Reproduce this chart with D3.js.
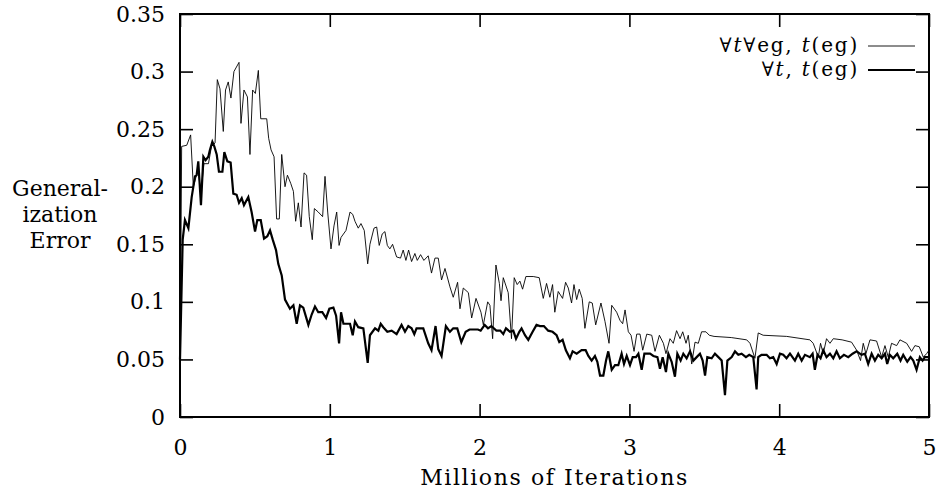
<!DOCTYPE html>
<html>
<head>
<meta charset="utf-8">
<script src="https://cdn.jsdelivr.net/npm/d3@7/dist/d3.min.js"></script>
<style>
  body { margin: 0; background: #fff; }
  svg text { font-family: "DejaVu Serif", serif; fill: #000; }
</style>
</head>
<body>
<div id="chart"></div>
<script>
// x tick values / labels
const xTicks = [0, 1, 2, 3, 4, 5];
const xTickLabels = ["0", "1", "2", "3", "4", "5"];
const yTicks = [0, 0.05, 0.1, 0.15, 0.2, 0.25, 0.3, 0.35];
const yTickLabels = ["0", "0.05", "0.1", "0.15", "0.2", "0.25", "0.3", "0.35"];

// [millions of iterations, generalization error]  -- thin line
const thinSeries = [
  [0,0.03],[0.011,0.235],[0.045,0.236],[0.071,0.245],[0.089,0.200],[0.10,0.205],[0.12,0.215],[0.14,0.195],
  [0.16,0.22],[0.19,0.22],[0.21,0.235],[0.234,0.238],[0.249,0.293],[0.267,0.285],[0.289,0.248],[0.304,0.284],
  [0.322,0.291],[0.340,0.277],[0.360,0.300],[0.394,0.308],[0.407,0.255],[0.427,0.284],[0.450,0.278],[0.467,0.228],
  [0.485,0.284],[0.503,0.281],[0.523,0.301],[0.539,0.259],[0.579,0.259],[0.592,0.242],[0.608,0.232],[0.628,0.226],
  [0.645,0.172],[0.663,0.172],[0.679,0.228],[0.701,0.200],[0.717,0.210],[0.739,0.203],[0.757,0.196],[0.772,0.170],
  [0.790,0.186],[0.808,0.165],[0.828,0.212],[0.845,0.210],[0.863,0.174],[0.883,0.154],[0.897,0.181],[0.923,0.178],
  [0.952,0.174],[0.968,0.209],[0.986,0.178],[1.008,0.146],[1.028,0.166],[1.046,0.178],[1.062,0.149],[1.075,0.156],
  [1.108,0.162],[1.135,0.178],[1.153,0.176],[1.168,0.170],[1.190,0.164],[1.208,0.168],[1.230,0.162],[1.253,0.133],
  [1.268,0.150],[1.295,0.164],[1.313,0.165],[1.330,0.149],[1.350,0.159],[1.368,0.161],[1.384,0.149],[1.401,0.146],
  [1.419,0.150],[1.446,0.139],[1.472,0.138],[1.490,0.145],[1.508,0.136],[1.526,0.145],[1.546,0.135],[1.568,0.142],
  [1.584,0.136],[1.606,0.141],[1.628,0.136],[1.657,0.140],[1.679,0.125],[1.702,0.138],[1.724,0.138],[1.746,0.119],
  [1.769,0.129],[1.802,0.113],[1.824,0.104],[1.853,0.117],[1.869,0.094],[1.891,0.112],[1.925,0.108],[1.947,0.086],
  [1.976,0.103],[2.009,0.091],[2.025,0.080],[2.054,0.100],[2.069,0.097],[2.087,0.068],[2.109,0.132],[2.132,0.116],
  [2.143,0.101],[2.158,0.121],[2.191,0.108],[2.213,0.068],[2.231,0.121],[2.251,0.115],[2.269,0.118],[2.287,0.111],
  [2.309,0.122],[2.358,0.122],[2.398,0.121],[2.425,0.103],[2.447,0.116],[2.469,0.104],[2.487,0.115],[2.502,0.091],
  [2.525,0.109],[2.554,0.103],[2.574,0.117],[2.592,0.112],[2.614,0.099],[2.630,0.115],[2.648,0.102],[2.665,0.111],
  [2.685,0.103],[2.703,0.077],[2.732,0.100],[2.752,0.099],[2.775,0.080],[2.810,0.099],[2.837,0.083],[2.864,0.064],
  [2.882,0.097],[2.915,0.091],[2.937,0.084],[2.955,0.081],[2.971,0.093],[2.993,0.074],[3.011,0.071],[3.031,0.057],
  [3.049,0.072],[3.071,0.072],[3.089,0.058],[3.116,0.072],[3.149,0.071],[3.171,0.057],[3.200,0.071],[3.227,0.064],
  [3.244,0.055],[3.271,0.068],[3.293,0.064],[3.315,0.075],[3.338,0.068],[3.356,0.074],[3.378,0.064],[3.393,0.071],
  [3.416,0.046],[3.438,0.065],[3.460,0.064],[3.482,0.074],[3.511,0.074],[3.533,0.071],[3.565,0.070],[3.680,0.069],
  [3.783,0.067],[3.805,0.064],[3.838,0.051],[3.860,0.073],[3.893,0.071],[4.050,0.070],[4.205,0.067],[4.227,0.064],
  [4.261,0.052],[4.276,0.064],[4.294,0.055],[4.316,0.068],[4.339,0.064],[4.361,0.068],[4.420,0.067],[4.483,0.065],
  [4.517,0.058],[4.543,0.049],[4.561,0.064],[4.579,0.055],[4.606,0.067],[4.650,0.066],[4.684,0.052],[4.706,0.062],
  [4.728,0.052],[4.750,0.064],[4.784,0.062],[4.806,0.067],[4.851,0.064],[4.884,0.057],[4.906,0.062],[4.935,0.061],
  [4.962,0.052],[4.984,0.055],[5.0,0.058]
];

// thick line
const thickSeries = [
  [0,0.05],[0.018,0.154],[0.033,0.171],[0.056,0.164],[0.078,0.191],[0.100,0.209],[0.111,0.210],[0.122,0.222],
  [0.140,0.184],[0.156,0.226],[0.171,0.223],[0.189,0.226],[0.200,0.232],[0.216,0.239],[0.229,0.235],[0.245,0.228],
  [0.260,0.213],[0.283,0.213],[0.296,0.230],[0.316,0.222],[0.338,0.221],[0.356,0.194],[0.378,0.193],[0.394,0.186],
  [0.412,0.190],[0.427,0.184],[0.456,0.191],[0.478,0.178],[0.501,0.161],[0.516,0.171],[0.539,0.171],[0.561,0.155],
  [0.583,0.157],[0.601,0.162],[0.619,0.154],[0.641,0.145],[0.656,0.133],[0.679,0.123],[0.701,0.102],[0.734,0.094],
  [0.757,0.097],[0.779,0.081],[0.801,0.097],[0.823,0.095],[0.857,0.080],[0.879,0.089],[0.901,0.096],[0.923,0.091],
  [0.950,0.091],[0.975,0.086],[0.997,0.094],[1.024,0.095],[1.042,0.088],[1.062,0.064],[1.075,0.091],[1.091,0.081],
  [1.113,0.081],[1.135,0.081],[1.153,0.071],[1.168,0.083],[1.190,0.078],[1.224,0.077],[1.253,0.047],[1.268,0.071],
  [1.302,0.077],[1.324,0.075],[1.340,0.081],[1.357,0.078],[1.384,0.074],[1.413,0.075],[1.446,0.072],[1.479,0.080],
  [1.502,0.074],[1.524,0.079],[1.546,0.077],[1.564,0.072],[1.579,0.077],[1.624,0.077],[1.657,0.064],[1.679,0.058],
  [1.706,0.079],[1.724,0.059],[1.746,0.053],[1.775,0.079],[1.802,0.074],[1.824,0.077],[1.851,0.077],[1.878,0.065],
  [1.907,0.074],[1.933,0.076],[1.989,0.076],[2.007,0.075],[2.034,0.080],[2.056,0.077],[2.078,0.079],[2.112,0.075],
  [2.138,0.075],[2.158,0.072],[2.176,0.077],[2.203,0.074],[2.225,0.075],[2.243,0.068],[2.265,0.074],[2.280,0.077],
  [2.303,0.071],[2.325,0.067],[2.354,0.074],[2.380,0.080],[2.403,0.079],[2.429,0.079],[2.458,0.075],[2.487,0.074],
  [2.514,0.071],[2.532,0.065],[2.554,0.067],[2.576,0.058],[2.603,0.051],[2.621,0.057],[2.648,0.055],[2.681,0.058],
  [2.708,0.058],[2.726,0.053],[2.748,0.049],[2.770,0.053],[2.786,0.048],[2.804,0.036],[2.826,0.036],[2.844,0.049],
  [2.859,0.057],[2.882,0.041],[2.904,0.045],[2.926,0.045],[2.948,0.055],[2.964,0.046],[2.982,0.053],[3.004,0.045],
  [3.022,0.052],[3.044,0.052],[3.060,0.055],[3.082,0.041],[3.100,0.055],[3.138,0.055],[3.160,0.053],[3.187,0.052],
  [3.204,0.042],[3.222,0.052],[3.244,0.039],[3.260,0.055],[3.282,0.048],[3.304,0.035],[3.320,0.055],[3.342,0.049],
  [3.360,0.055],[3.382,0.051],[3.405,0.057],[3.427,0.049],[3.449,0.052],[3.471,0.055],[3.489,0.049],[3.505,0.036],
  [3.520,0.052],[3.549,0.051],[3.571,0.055],[3.594,0.052],[3.616,0.049],[3.638,0.019],[3.654,0.049],[3.683,0.052],
  [3.705,0.057],[3.727,0.054],[3.749,0.055],[3.778,0.052],[3.800,0.054],[3.827,0.052],[3.849,0.024],[3.860,0.052],
  [3.882,0.054],[3.916,0.054],[3.938,0.051],[3.960,0.052],[3.983,0.046],[4.005,0.055],[4.027,0.054],[4.049,0.051],
  [4.072,0.055],[4.105,0.049],[4.127,0.055],[4.150,0.049],[4.172,0.054],[4.205,0.052],[4.223,0.055],[4.238,0.041],
  [4.256,0.054],[4.276,0.051],[4.294,0.058],[4.316,0.052],[4.339,0.055],[4.361,0.051],[4.383,0.057],[4.405,0.051],
  [4.432,0.054],[4.461,0.052],[4.490,0.055],[4.517,0.057],[4.550,0.054],[4.572,0.055],[4.594,0.046],[4.617,0.055],
  [4.639,0.049],[4.661,0.054],[4.684,0.051],[4.706,0.055],[4.721,0.046],[4.739,0.054],[4.761,0.051],[4.788,0.055],
  [4.810,0.049],[4.828,0.054],[4.855,0.048],[4.877,0.052],[4.895,0.049],[4.917,0.041],[4.939,0.052],[4.957,0.049],
  [4.972,0.052],[5.0,0.052]
];

const yTitleLines = ["General-", "ization", "Error"];
const xTitle = "Millions of Iterations";

function drawChart() {
  const svgWidth = 937, svgHeight = 490;
  const margin = { top: 14, right: 8, bottom: 73, left: 180 };
  const width = svgWidth - margin.left - margin.right;
  const height = svgHeight - margin.top - margin.bottom;
  const fontSize = 22;
  const font = "'DejaVu Serif', serif";

  const svg = d3.select("#chart")
    .append("svg")
    .attr("width", svgWidth)
    .attr("height", svgHeight)
    .style("font-family", font)
    .append("g")
    .attr("transform", `translate(${margin.left},${margin.top})`);

  const xScale = d3.scaleLinear().domain([0, 5]).range([0, width]);
  const yScale = d3.scaleLinear().domain([0, 0.35]).range([height, 0]);

  // axes, ticks pointing inward (gnuplot style)
  const xAxis = d3.axisBottom(xScale).tickValues(xTicks)
    .tickSize(-13).tickPadding(22).tickFormat((d, i) => xTickLabels[i]);
  const yAxis = d3.axisLeft(yScale).tickValues(yTicks)
    .tickSize(-13).tickPadding(15).tickFormat((d, i) => yTickLabels[i]);

  const gx = svg.append("g").attr("transform", `translate(0,${height})`).call(xAxis);
  const gy = svg.append("g").call(yAxis);
  // mirror ticks on top and right
  const gt = svg.append("g").call(d3.axisTop(xScale).tickValues(xTicks).tickSize(-13).tickFormat(""));
  const gr = svg.append("g").attr("transform", `translate(${width},0)`)
    .call(d3.axisRight(yScale).tickValues(yTicks).tickSize(-13).tickFormat(""));

  [gx, gy, gt, gr].forEach(g => {
    g.attr("font-family", font);
    g.select(".domain").remove();
    g.selectAll(".tick line").attr("stroke", "#000").attr("stroke-width", 1.6);
    g.selectAll("text").attr("font-size", fontSize + "px")
      .style("font-family", font).attr("fill", "#000");
  });

  const line = d3.line()
    .x(d => xScale(d[0]))
    .y(d => yScale(d[1]));

  svg.append("path")
    .datum(thinSeries)
    .attr("d", line)
    .attr("fill", "none")
    .attr("stroke", "#000")
    .attr("stroke-width", 0.9)
    .attr("stroke-linejoin", "miter");

  svg.append("path")
    .datum(thickSeries)
    .attr("d", line)
    .attr("fill", "none")
    .attr("stroke", "#000")
    .attr("stroke-width", 2.2)
    .attr("stroke-linejoin", "miter");

  // frame
  svg.append("rect")
    .attr("x", 0).attr("y", 0)
    .attr("width", width).attr("height", height)
    .attr("fill", "none")
    .attr("stroke", "#000")
    .attr("stroke-width", 2);

  // legend
  const legendSize = 20;
  const legend = svg.append("g").attr("transform", `translate(${width - 71}, 0)`);
  const t1 = legend.append("text").attr("x", 1).attr("y", 38)
    .attr("text-anchor", "end").attr("font-size", legendSize + "px")
    .attr("letter-spacing", 1.8).style("font-family", font);
  t1.append("tspan").text("\u2200");
  t1.append("tspan").attr("font-style", "italic").text("t");
  t1.append("tspan").text("\u2200eg, ");
  t1.append("tspan").attr("font-style", "italic").text("t");
  t1.append("tspan").text("(eg)");
  legend.append("line").attr("x1", 10).attr("x2", 57).attr("y1", 32).attr("y2", 32)
    .attr("stroke", "#000").attr("stroke-width", 0.9);

  const t2 = legend.append("text").attr("x", 1).attr("y", 62)
    .attr("text-anchor", "end").attr("font-size", legendSize + "px")
    .attr("letter-spacing", 1.8).style("font-family", font);
  t2.append("tspan").text("\u2200");
  t2.append("tspan").attr("font-style", "italic").text("t");
  t2.append("tspan").text(", ");
  t2.append("tspan").attr("font-style", "italic").text("t");
  t2.append("tspan").text("(eg)");
  legend.append("line").attr("x1", 10).attr("x2", 57).attr("y1", 56).attr("y2", 56)
    .attr("stroke", "#000").attr("stroke-width", 2.2);

  // y title (three lines)
  svg.append("text")
    .attr("x", -120)
    .attr("y", 182)
    .attr("text-anchor", "middle")
    .attr("font-size", fontSize + "px")
    .style("font-family", font)
    .selectAll("tspan")
    .data(yTitleLines)
    .enter().append("tspan")
    .attr("x", -120)
    .attr("dy", (d, i) => i === 0 ? 0 : 26)
    .text(d => d);

  // x title
  svg.append("text")
    .attr("x", width / 2)
    .attr("y", height + 68)
    .attr("text-anchor", "middle")
    .attr("font-size", fontSize + "px")
    .attr("letter-spacing", 1.6)
    .style("font-family", font)
    .text(xTitle);
}

drawChart();
</script>
</body>
</html>
